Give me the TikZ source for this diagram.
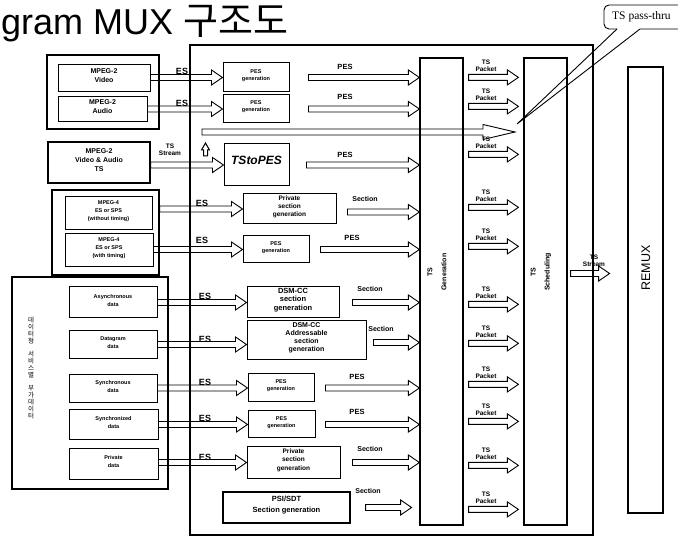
\documentclass[tikz,border=0pt]{standalone}
\usepackage{fontspec}
\setmainfont{Liberation Sans}
\newfontfamily\krfont{Noto Sans CJK KR}
\newfontfamily\tsserif{Liberation Serif}
\usetikzlibrary{calc,fit}
\newcommand\fsz[2]{\fontsize{#1}{#2}\selectfont}
% hollow horizontal arrow: start x from #2, end point #3 (arrow runs at the end's y)
\newcommand\harr[3][11pt]{%
  \draw[hollow] let \p1=#2, \p2=#3 in
    (\x1,\y2+3pt) -- (\x2-#1,\y2+3pt) -- (\x2-#1,\y2+7.5pt) -- (\x2,\y2)
    -- (\x2-#1,\y2-7.5pt) -- (\x2-#1,\y2-3pt) -- (\x1,\y2-3pt) -- cycle;}
\begin{document}
\begin{tikzpicture}[x=1pt,y=-1pt,
  box/.style={draw, line width=1pt, inner sep=0pt, align=center, font=\bfseries\fsz{7}{9}},
  obox/.style={draw, line width=1.2pt, inner sep=0pt},
  col/.style={draw, line width=1.2pt, inner sep=0pt},
  pbox/.style={box, font=\bfseries\fsz{5.5}{7}},
  dbox/.style={box, font=\bfseries\fsz{5.5}{8}},
  sbox/.style={box, font=\bfseries\fsz{6.5}{8.3}},
  hollow/.style={line width=0.9pt, line join=miter},
  lbl/.style={inner sep=0pt, align=center, font=\bfseries\fsz{7.5}{8}},
  eslbl/.style={inner sep=0pt, font=\bfseries\fsz{9}{9}},
  pklbl/.style={inner sep=0pt, align=center, anchor=south, font=\bfseries\fsz{6.5}{7.5}}]
\useasboundingbox (0,0) rectangle (678,545);

% title
\node[anchor=base west, inner sep=0pt, font=\fsz{36}{40}] (title) at (1,35) {gram MUX {\krfont\fontsize{38}{40}\selectfont 구조도}};

% main frame and columns
\node[obox, fit={(190,45) (593,535)}] (mux) {};
\node[col, fit={(420,58) (463,525)}] (tsgen) {};
\node[col, fit={(524,58) (567,525)}] (tssch) {};
\node[col, fit={(628,67) (663,513)}] (remux) {};
\node[rotate=90, align=center, inner sep=0pt, font=\bfseries\fsz{7}{14}] (tsgenl) at (437,272) {TS\\Generation};
\node[rotate=90, align=center, inner sep=0pt, font=\bfseries\fsz{7}{14}] (tsschl) at (541,272) {TS\\Scheduling};
\node[rotate=90, inner sep=0pt, font=\fsz{12.5}{14}] (remuxl) at (646,268) {REMUX};

% left inputs
\node[obox, fit={(47,55) (159,129)}] (m2out) {};
\node[box, fit={(58,65) (150,92)}] (vid) {MPEG-2\\Video};
\node[box, fit={(58,97) (147,122)}] (aud) {MPEG-2\\Audio};
\node[box, line width=1.2pt, fit={(48,142) (150,183)}] (tsav) {MPEG-2\\Video \& Audio\\TS};
\node[obox, fit={(52,190) (159,275)}] (m4out) {};
\node[pbox, font=\bfseries\fsz{5.5}{8}, fit={(65,197) (152,230)}] (m4a) {MPEG-4\\ES or SPS\\(without timing)};
\node[pbox, font=\bfseries\fsz{5.5}{8}, fit={(65,234) (153,267)}] (m4b) {MPEG-4\\ES or SPS\\(with timing)};
\node[obox, fit={(12,277) (168,489)}] (dout) {};
\node[dbox, fit={(69,287) (157,318)}] (async) {Asynchronous\\data};
\node[dbox, fit={(69,331) (157,359)}] (dgram) {Datagram\\data};
\node[dbox, fit={(69,375) (157,403)}] (sync) {Synchronous\\data};
\node[dbox, fit={(69,410) (158,440)}] (syncd) {Synchronized\\data};
\node[dbox, fit={(69,449) (158,479)}] (pdata) {Private\\data};
\node[inner sep=0pt, align=center, font=\krfont\fsz{6.5}{7}] (kr) at (31,368)
  {데\\이\\터\\형\\[6pt]서\\비\\스\\별\\[6pt]부\\가\\데\\이\\터};

% middle blocks
\node[pbox, fit={(223,63) (289,92)}] (pes1) {PES\\generation};
\node[pbox, fit={(223,95) (289,123)}] (pes2) {PES\\generation};
\node[box, font=\bfseries\itshape\fsz{12}{14}, fit={(224,144) (289,186)}] (tstopes) {TStoPES};
\node[sbox, fit={(243,194) (336,224)}] (priv1) {Private\\section\\generation};
\node[pbox, fit={(243,236) (309,263)}] (pes3) {PES\\generation};
\node[sbox, font=\bfseries\fsz{7.5}{8.7}, fit={(247,287) (339,318)}] (dsm1) {DSM-CC\\section\\generation};
\node[sbox, font=\bfseries\fsz{7}{8}, fit={(247,321) (366,360)}] (dsm2) {DSM-CC\\Addressable\\section\\generation};
\node[pbox, fit={(248,374) (314,402)}] (pes4) {PES\\generation};
\node[pbox, fit={(248,411) (315,438)}] (pes5) {PES\\generation};
\node[sbox, fit={(247,447) (340,478)}] (priv2) {Private\\section\\generation};
\node[box, line width=1.2pt, font=\bfseries\fsz{7.5}{11}, fit={(223,492) (350,523)}] (psi) {PSI/SDT\\Section generation};

% ES arrows into the blocks
\harr{(vid.east)}{(pes1.west)}
\harr{(aud.east)}{(pes2.west)}
\harr{(tsav.east)}{(tstopes.west)}
\harr{(m4out.east)}{(priv1.west)}
\harr{(m4b.east)}{(pes3.west)}
\harr{(async.east)}{(dsm1.west)}
\harr{(dgram.east)}{($(dsm2.west)+(0,4)$)}
\harr{(sync.east)}{(pes4.west)}
\harr{(syncd.east)}{(pes5.west)}
\harr{(pdata.east)}{(priv2.west)}
\node[eslbl] (es1) at (182,71) {ES};
\node[eslbl] (es2) at (182,103) {ES};
\node[lbl, font=\bfseries\fsz{6.5}{7.5}] (tss) at (170,150) {TS\\Stream};
\node[eslbl] (es3) at (202,203) {ES};
\node[eslbl] (es4) at (202,240) {ES};
\node[eslbl] (es5) at (205,296) {ES};
\node[eslbl] (es6) at (205,339) {ES};
\node[eslbl] (es7) at (205,382) {ES};
\node[eslbl] (es8) at (205,418) {ES};
\node[eslbl] (es9) at (205,457) {ES};
\draw[line width=1pt] (203.5,156) -- (203.5,150) -- (201.5,150) -- (205.5,143) -- (209.5,150) -- (207.5,150) -- (207.5,156) -- cycle;

% outputs into TS generation
\harr{($(pes1.east)+(19,0)$)}{(tsgen.west |- pes1.east)}
\harr{($(pes2.east)+(19,0)$)}{(tsgen.west |- pes2.east)}
\harr{($(tstopes.east)+(17,0)$)}{(tsgen.west |- tstopes.east)}
\harr{($(priv1.east)+(11,0)$)}{($(tsgen.west |- priv1.east)+(0,3)$)}
\harr{($(pes3.east)+(11,0)$)}{(tsgen.west |- pes3.east)}
\harr{($(dsm1.east)+(13,0)$)}{(tsgen.west |- dsm1.east)}
\harr{($(dsm2.east)+(7,0)$)}{($(tsgen.west |- dsm2.east)+(0,2)$)}
\harr{($(pes4.east)+(11,0)$)}{(tsgen.west |- pes4.east)}
\harr{($(pes5.east)+(10,0)$)}{(tsgen.west |- pes5.east)}
\harr{($(priv2.east)+(12,0)$)}{(tsgen.west |- priv2.east)}
\harr{($(psi.east)+(15,0)$)}{($(psi.east)+(61,0)$)}
\node[lbl] (o1) at (345,67) {PES};
\node[lbl] (o2) at (345,97) {PES};
\node[lbl] (o3) at (345,155) {PES};
\node[lbl, font=\bfseries\fsz{7}{8}] (o4) at (365,199) {Section};
\node[lbl] (o5) at (352,238) {PES};
\node[lbl, font=\bfseries\fsz{7}{8}] (o6) at (370,289) {Section};
\node[lbl, font=\bfseries\fsz{7}{8}] (o7) at (381,329) {Section};
\node[lbl] (o8) at (357,377) {PES};
\node[lbl] (o9) at (357,412) {PES};
\node[lbl, font=\bfseries\fsz{7}{8}] (o10) at (370,449) {Section};
\node[lbl, font=\bfseries\fsz{7}{8}] (o11) at (368,491) {Section};

% TS pass-through
\coordinate (pts) at (202,132);
\coordinate (ptt) at (515,132);
\harr[32pt]{(pts)}{(ptt)}
\node[anchor=west, inner sep=0pt, font=\tsserif\fsz{11.5}{12}] (pass) at (612,17) {TS pass-thru};
\draw[line width=0.9pt, rounded corners=5pt] (617,29) -- (604,29) -- (604,5) -- (678,5);
\draw[line width=0.9pt] (678,29) -- (640,29) -- ($(ptt)+(2,-8)$) -- (617,29);

% TS packets between generation and scheduling
\foreach \yy [count=\i] in {78,107,155,208,247,305,344,385,422,466,510} {
  \harr{($(tsgen.east)+(5,0)$)}{($(tssch.north west)+(-5,\yy-58)$)}
  \node[pklbl] (pk\i) at (486,\yy-6) {TS\\Packet};
}

% TS stream to REMUX
\harr{($(tssch.east)+(3,0)$)}{($(tssch.east)+(42,-18)$)}
\node[pklbl] (tsst) at (594,267) {TS\\Stream};
\end{tikzpicture}
\end{document}
